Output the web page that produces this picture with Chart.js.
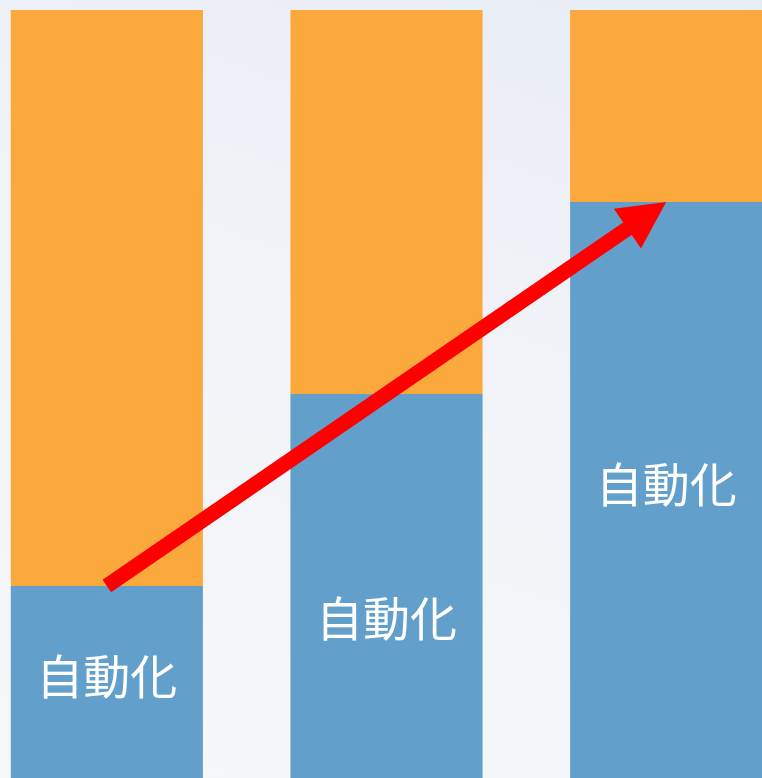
<!DOCTYPE html>
<html>
<head>
<meta charset="utf-8">
<script src="https://cdn.jsdelivr.net/npm/chart.js@4/dist/chart.umd.min.js"></script>
<style>
    html, body { margin: 0; padding: 0; }
    body {
        width: 762px; height: 778px; overflow: hidden; position: relative;
        background: linear-gradient(200deg, #e8ecf4 0%, #f1f3f8 45%, #f7f8fa 100%);
    }
    #chart { position: absolute; left: -33px; top: 0; }
</style>
</head>
<body>
<canvas id="chart" width="839" height="778"></canvas>
<script>
// ==================== 数据 ====================
const categories = ['A', 'B', 'C'];
const autoValues = [25, 50, 75];      // 下段（蓝）
const restValues = [75, 50, 25];      // 上段（橙）
const barLabel = '自動化';
const labelAt = [13.3, 20.8, 38.3];   // 标签所在的数值位置

// ==================== 标签 + 箭头插件 ====================
const overlayPlugin = {
    id: 'overlay',
    afterDatasetsDraw(chart) {
        const ctx = chart.ctx;
        const x = chart.scales.x, y = chart.scales.y;

        // 白色文字
        ctx.save();
        ctx.fillStyle = '#ffffff';
        ctx.font = '400 47px "Noto Sans CJK JP", "Noto Sans CJK SC", sans-serif';
        ctx.textAlign = 'center';
        ctx.textBaseline = 'middle';
        categories.forEach((c, i) => {
            ctx.fillText(barLabel, x.getPixelForValue(i), y.getPixelForValue(labelAt[i]));
        });
        ctx.restore();

        // 红色箭头：第一根蓝柱顶 -> 第三根蓝柱顶
        const x0 = x.getPixelForValue(0), y0 = y.getPixelForValue(autoValues[0]);
        const x1 = x.getPixelForValue(2), y1 = y.getPixelForValue(autoValues[2]);
        const ang = Math.atan2(y1 - y0, x1 - x0);
        const headLen = 47, headW = 48;
        const bx = x1 - headLen * Math.cos(ang), by = y1 - headLen * Math.sin(ang);
        ctx.save();
        ctx.strokeStyle = '#ff0000';
        ctx.fillStyle = '#ff0000';
        ctx.lineWidth = 15;
        ctx.lineCap = 'butt';
        ctx.beginPath();
        ctx.moveTo(x0, y0);
        ctx.lineTo(bx + 2 * Math.cos(ang), by + 2 * Math.sin(ang));
        ctx.stroke();
        ctx.beginPath();
        ctx.moveTo(x1, y1);
        ctx.lineTo(bx + headW / 2 * Math.sin(ang), by - headW / 2 * Math.cos(ang));
        ctx.lineTo(bx - headW / 2 * Math.sin(ang), by + headW / 2 * Math.cos(ang));
        ctx.closePath();
        ctx.fill();
        ctx.restore();
    }
};

// ==================== 创建图表 ====================
new Chart(document.getElementById('chart'), {
    type: 'bar',
    data: {
        labels: categories,
        datasets: [
            { data: autoValues, backgroundColor: '#639fcb', barPercentage: 0.687, categoryPercentage: 1 },
            { data: restValues, backgroundColor: '#fba83c', barPercentage: 0.687, categoryPercentage: 1 }
        ]
    },
    options: {
        responsive: false,
        animation: false,
        layout: { padding: { top: 10, bottom: 0, left: 0, right: 0 } },
        plugins: { legend: { display: false }, tooltip: { enabled: false } },
        scales: {
            x: { stacked: true, display: false },
            y: { stacked: true, display: false, min: 0, max: 100 }
        }
    },
    plugins: [overlayPlugin]
});
</script>
</body>
</html>
